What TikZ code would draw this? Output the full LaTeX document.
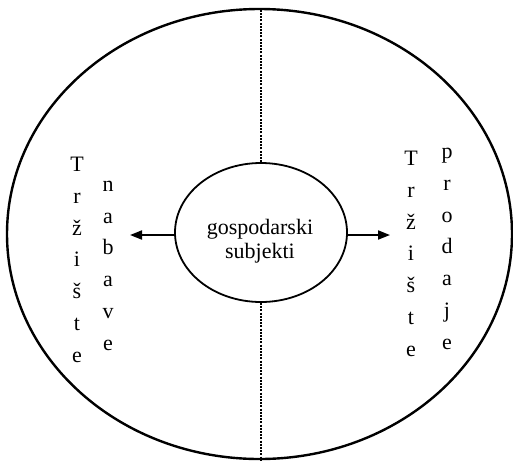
\documentclass[tikz,border=0pt]{standalone}
\usepackage{fontspec}
\setmainfont{Liberation Serif}
\usetikzlibrary{shapes.geometric,arrows.meta}
\begin{document}
\begin{tikzpicture}[x=1pt,y=1pt,
  bigell/.style={draw, ellipse, line width=2.4pt, inner sep=0pt},
  smallell/.style={draw, ellipse, line width=1.8pt, inner sep=0pt},
  dotline/.style={line width=2.4pt, dash pattern=on 2pt off 1.2pt},
  arr/.style={line width=1.8pt, -{Triangle[length=12pt,width=9pt]}},
  lbl/.style={font=\fontsize{22}{24}\selectfont, align=center, inner sep=0pt},
  col/.style={font=\fontsize{22}{31.7}\selectfont, align=center, inner sep=0pt, anchor=base}]
\useasboundingbox (0,0) rectangle (513,-461);
\node[bigell, minimum width=505pt, minimum height=450pt] (outer) at (259.5,-234) {};
\node[smallell, minimum width=172pt, minimum height=139pt] (se) at (261,-232.5) {};
\node[lbl] (st) at (260,-241) {gospodarski\\subjekti};
\coordinate (topend) at (se.north |- outer.north);
\coordinate (botend) at (se.south |- outer.south);
\draw[dotline] (se.north) -- (topend);
\draw[dotline] (se.south) -- (botend);
\coordinate (lt) at (130,-235);
\coordinate (rt) at (390,-235);
\draw[arr] (se.west |- lt) -- (lt);
\draw[arr] (se.east |- rt) -- (rt);
\node[col] (ltr) at (77,-362) {T\\r\\ž\\i\\š\\t\\e};
\node[col] (nab) at (108,-350) {n\\a\\b\\a\\v\\e};
\node[col] (rtr) at (411,-356) {T\\r\\ž\\i\\š\\t\\e};
\node[col] (pro) at (447,-349) {p\\r\\o\\d\\a\\j\\e};
\end{tikzpicture}
\end{document}
